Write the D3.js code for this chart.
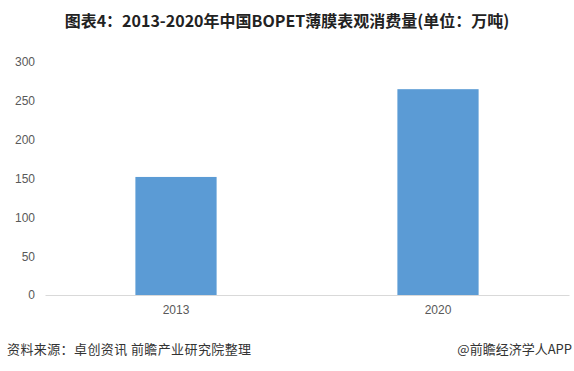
<!DOCTYPE html>
<html>
<head>
<meta charset="utf-8">
<script src="https://cdn.jsdelivr.net/npm/d3@7"></script>
<style>
  body { margin: 0; background: #fff; }
  svg { display: block; }
</style>
</head>
<body>
<div id="chart"></div>
<script>
// data
const years = ["2013", "2020"];
const consumption = [152, 265];
const yTicks = [0, 50, 100, 150, 200, 250, 300];

const W = 574, H = 371;
const margin = { top: 62, right: 5, bottom: 76, left: 45 };

const svg = d3.select("#chart")
  .append("svg")
  .attr("width", W)
  .attr("height", H);

const x = d3.scaleBand()
  .domain(years)
  .range([margin.left, W - margin.right])
  .paddingInner(0.69)
  .paddingOuter(0.345);

const y = d3.scaleLinear()
  .domain([0, 300])
  .range([H - margin.bottom, margin.top]);

// title
svg.append("text")
  .attr("x", 287)
  .attr("y", 27)
  .attr("text-anchor", "middle")
  .attr("font-family", "'Noto Sans CJK SC', sans-serif")
  .attr("font-size", 16)
  .attr("font-weight", "bold")
  .attr("fill", "#222")
  .text("图表4：2013-2020年中国BOPET薄膜表观消费量(单位：万吨)");

// y tick labels (no axis line, no gridlines)
const yAxis = svg.append("g")
  .attr("transform", `translate(${margin.left - 10},0)`)
  .call(d3.axisLeft(y).tickValues(yTicks).tickSize(0).tickPadding(0));
yAxis.select(".domain").remove();
yAxis.selectAll("text")
  .attr("font-family", "'Liberation Sans', Arial, sans-serif")
  .attr("font-size", 12)
  .attr("fill", "#595959");

// bars
svg.selectAll("rect.bar")
  .data(years.map((yr, i) => ({ yr, v: consumption[i] })))
  .enter().append("rect")
  .attr("class", "bar")
  .attr("x", d => x(d.yr))
  .attr("y", d => y(d.v))
  .attr("width", x.bandwidth())
  .attr("height", d => y(0) - y(d.v))
  .attr("fill", "#5b9bd5");

// x axis
const xAxis = svg.append("g")
  .attr("transform", `translate(0,${y(0)})`)
  .call(d3.axisBottom(x).tickSize(0).tickPadding(10));
xAxis.select(".domain")
  .attr("stroke", "#d9d9d9")
  .attr("stroke-width", 1);
xAxis.selectAll("text")
  .attr("font-family", "'Liberation Sans', Arial, sans-serif")
  .attr("font-size", 12)
  .attr("fill", "#595959");

// footer
svg.append("text")
  .attr("x", 7)
  .attr("y", 354)
  .attr("font-family", "'Noto Sans CJK SC', sans-serif")
  .attr("font-size", 13)
  .attr("letter-spacing", 0.4)
  .attr("fill", "#333")
  .text("资料来源：卓创资讯 前瞻产业研究院整理");

svg.append("text")
  .attr("x", 572)
  .attr("y", 354)
  .attr("text-anchor", "end")
  .attr("font-family", "'Noto Sans CJK SC', sans-serif")
  .attr("font-size", 13)
  .attr("fill", "#333")
  .text("@前瞻经济学人APP");
</script>
</body>
</html>
